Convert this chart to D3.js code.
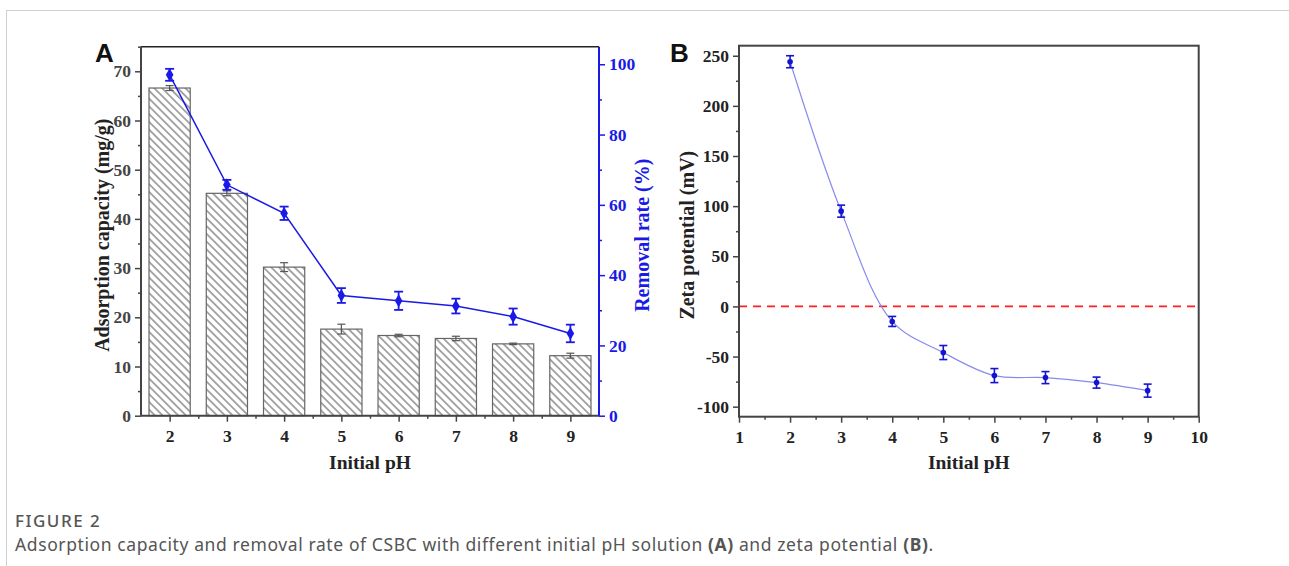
<!DOCTYPE html>
<html>
<head>
<meta charset="utf-8">
<script src="https://cdn.jsdelivr.net/npm/d3@7/dist/d3.min.js"></script>
<style>
  html, body { margin: 0; padding: 0; background: #fff; }
  svg { display: block; }
</style>
</head>
<body>
<svg id="chart" width="1289" height="566"></svg>
<script>
// ---------- DATA ----------
const phA = [2, 3, 4, 5, 6, 7, 8, 9];
const capacity = [66.6, 45.2, 30.2, 17.6, 16.3, 15.7, 14.6, 12.2];
const capacityErr = [0.5, 0.5, 0.9, 1.0, 0.25, 0.45, 0.15, 0.5];
const removal = [97.0, 65.7, 57.6, 34.2, 32.7, 31.2, 28.2, 23.4];
const removalErr = [1.7, 1.4, 1.9, 2.1, 2.6, 2.1, 2.3, 2.5];

const phB = [2, 3, 4, 5, 6, 7, 8, 9];
const zeta = [244, 95, -15, -46, -69, -71, -76, -84];
const zetaErr = [6, 6, 5, 7, 7, 6, 5.5, 6.5];

const leftTicks = [0, 10, 20, 30, 40, 50, 60, 70];
const rightTicks = [0, 20, 40, 60, 80, 100];
const xTicksA = [2, 3, 4, 5, 6, 7, 8, 9];
const yTicksB = [-100, -50, 0, 50, 100, 150, 200, 250];
const xTicksB = [1, 2, 3, 4, 5, 6, 7, 8, 9, 10];

// ---------- SETUP ----------
const svg = d3.select("#chart");
const axisCol = "#444";
const blue = "#1a1ae6";
const serif = "'Liberation Serif', 'Times New Roman', serif";
const sans = "'Liberation Sans', Arial, sans-serif";
const tickFont = 17.5;

// page border lines
svg.append("line").attr("x1", 6).attr("x2", 1289).attr("y1", 10.5).attr("y2", 10.5)
  .attr("stroke", "#d0d0d0").attr("stroke-width", 1);
svg.append("line").attr("x1", 6.5).attr("x2", 6.5).attr("y1", 10).attr("y2", 566)
  .attr("stroke", "#d0d0d0").attr("stroke-width", 1);

// hatch pattern (lines from top-left to bottom-right)
const defs = svg.append("defs");
const pat = defs.append("pattern").attr("id", "hatch")
  .attr("patternUnits", "userSpaceOnUse").attr("width", 5.5).attr("height", 5.5)
  .attr("patternTransform", "rotate(45)");
pat.append("rect").attr("width", 5.5).attr("height", 5.5).attr("fill", "#fff");
pat.append("line").attr("x1", 0).attr("x2", 5.5).attr("y1", 2.75).attr("y2", 2.75)
  .attr("stroke", "#555").attr("stroke-width", 1);

function styleAxis(g, col, fontSize) {
  g.select(".domain").remove();
  g.selectAll(".tick line").attr("stroke", col).attr("stroke-width", 1.5);
  g.selectAll(".tick text").attr("fill", col).attr("font-family", serif)
    .attr("font-weight", "bold").attr("font-size", fontSize);
}

// ---------- PANEL A ----------
const A = { l: 141, r: 599, t: 46.7, b: 415.7 };
const xA = d3.scaleLinear().domain([1.5, 9.5]).range([A.l, A.r]);
const yL = d3.scaleLinear().domain([0, 75]).range([A.b, A.t]);
const yR = d3.scaleLinear().domain([0, 105]).range([A.b, A.t]);

// bars
const halfW = 0.36;
svg.append("g").selectAll("rect").data(phA).join("rect")
  .attr("x", (d) => xA(d - halfW))
  .attr("width", (d) => xA(d + halfW) - xA(d - halfW))
  .attr("y", (d, i) => yL(capacity[i]))
  .attr("height", (d, i) => yL(0) - yL(capacity[i]))
  .attr("fill", "url(#hatch)").attr("stroke", "#666").attr("stroke-width", 1.2);

// bar error bars
const gBE = svg.append("g").attr("stroke", "#555").attr("stroke-width", 1.2);
phA.forEach((d, i) => {
  const x = xA(d), y1 = yL(capacity[i] - capacityErr[i]), y2 = yL(capacity[i] + capacityErr[i]);
  gBE.append("line").attr("x1", x).attr("x2", x).attr("y1", y1).attr("y2", y2);
  gBE.append("line").attr("x1", x - 4).attr("x2", x + 4).attr("y1", y1).attr("y2", y1);
  gBE.append("line").attr("x1", x - 4).attr("x2", x + 4).attr("y1", y2).attr("y2", y2);
});

// removal line
const lineA = d3.line().x((d) => xA(d)).y((d, i) => yR(removal[i]));
svg.append("path").datum(phA).attr("d", lineA)
  .attr("fill", "none").attr("stroke", blue).attr("stroke-width", 1.5);
const gRE = svg.append("g").attr("stroke", blue).attr("stroke-width", 1.8);
phA.forEach((d, i) => {
  const x = xA(d), y1 = yR(removal[i] - removalErr[i]), y2 = yR(removal[i] + removalErr[i]);
  gRE.append("line").attr("x1", x).attr("x2", x).attr("y1", y1).attr("y2", y2);
  gRE.append("line").attr("x1", x - 4.5).attr("x2", x + 4.5).attr("y1", y1).attr("y2", y1);
  gRE.append("line").attr("x1", x - 4.5).attr("x2", x + 4.5).attr("y1", y2).attr("y2", y2);
});
svg.append("g").selectAll("path").data(phA).join("path")
  .attr("d", d3.symbol(d3.symbolDiamond, 50))
  .attr("transform", (d, i) => `translate(${xA(d)},${yR(removal[i])})`)
  .attr("fill", blue);

// frame A
svg.append("line").attr("x1", A.l).attr("x2", A.r).attr("y1", A.t).attr("y2", A.t)
  .attr("stroke", "#222").attr("stroke-width", 1.5);
svg.append("line").attr("x1", A.l).attr("x2", A.l).attr("y1", A.t).attr("y2", A.b)
  .attr("stroke", axisCol).attr("stroke-width", 2);
svg.append("line").attr("x1", A.l).attr("x2", A.r).attr("y1", A.b).attr("y2", A.b)
  .attr("stroke", axisCol).attr("stroke-width", 2);
svg.append("line").attr("x1", A.r).attr("x2", A.r).attr("y1", A.t).attr("y2", A.b)
  .attr("stroke", blue).attr("stroke-width", 2);

// axes A
const gyL = svg.append("g").attr("transform", `translate(${A.l},0)`)
  .call(d3.axisLeft(yL).tickValues(leftTicks).tickSize(6).tickPadding(4).tickFormat(d3.format("d")));
styleAxis(gyL, axisCol, tickFont);
gyL.selectAll(".tick text").attr("fill", "#444");
const gyLm = svg.append("g").attr("transform", `translate(${A.l},0)`)
  .call(d3.axisLeft(yL).tickValues(leftTicks.map((d) => d + 5)).tickSize(3).tickFormat(""));
styleAxis(gyLm, axisCol, tickFont);

const gyR = svg.append("g").attr("transform", `translate(${A.r},0)`)
  .call(d3.axisRight(yR).tickValues(rightTicks).tickSize(6).tickPadding(4).tickFormat(d3.format("d")));
styleAxis(gyR, blue, tickFont);
const gyRm = svg.append("g").attr("transform", `translate(${A.r},0)`)
  .call(d3.axisRight(yR).tickValues(rightTicks.slice(0, -1).map((d) => d + 10)).tickSize(3).tickFormat(""));
styleAxis(gyRm, blue, tickFont);

const gxA = svg.append("g").attr("transform", `translate(0,${A.b})`)
  .call(d3.axisBottom(xA).tickValues(xTicksA).tickSize(6).tickPadding(8).tickFormat(d3.format("d")));
styleAxis(gxA, axisCol, tickFont);
gxA.selectAll(".tick text").attr("fill", "#222");
const gxAm = svg.append("g").attr("transform", `translate(0,${A.b})`)
  .call(d3.axisBottom(xA).tickValues(xTicksA.slice(0, -1).map((d) => d + 0.5)).tickSize(3).tickFormat(""));
styleAxis(gxAm, axisCol, tickFont);

// titles A
svg.append("text").attr("x", (A.l + A.r) / 2).attr("y", 469).attr("text-anchor", "middle")
  .attr("font-family", serif).attr("font-weight", "bold").attr("font-size", 19.5).attr("fill", "#222")
  .text("Initial pH");
svg.append("text").attr("transform", `translate(109,${(A.t + A.b) / 2 + 4}) rotate(-90)`)
  .attr("text-anchor", "middle").attr("font-family", serif).attr("font-weight", "bold")
  .attr("font-size", 20).attr("fill", "#222").text("Adsorption capacity (mg/g)");
svg.append("text").attr("transform", `translate(649,${(A.t + A.b) / 2 + 4}) rotate(-90)`)
  .attr("text-anchor", "middle").attr("font-family", serif).attr("font-weight", "bold")
  .attr("font-size", 20).attr("fill", blue).text("Removal rate (%)");
svg.append("text").attr("x", 95).attr("y", 62).attr("font-family", sans).attr("font-weight", "bold")
  .attr("font-size", 26).attr("fill", "#111").text("A");

// ---------- PANEL B ----------
const B = { l: 739, r: 1198.7, t: 45.7, b: 416.7 };
const xB = d3.scaleLinear().domain([1, 10]).range([B.l, B.r]);
const yB = d3.scaleLinear().domain([-110, 260]).range([B.b, B.t]);

// zero line
svg.append("line").attr("x1", B.l).attr("x2", B.r).attr("y1", yB(0)).attr("y2", yB(0))
  .attr("stroke", "#ff2020").attr("stroke-width", 1.6).attr("stroke-dasharray", "8,6");

const lineB = d3.line().x((d) => xB(d)).y((d, i) => yB(zeta[i])).curve(d3.curveCatmullRom.alpha(0.5));
svg.append("path").datum(phB).attr("d", lineB)
  .attr("fill", "none").attr("stroke", "#8a8aee").attr("stroke-width", 1.2);
const gZE = svg.append("g").attr("stroke", "#1414d0").attr("stroke-width", 1.6);
phB.forEach((d, i) => {
  const x = xB(d), y1 = yB(zeta[i] - zetaErr[i]), y2 = yB(zeta[i] + zetaErr[i]);
  gZE.append("line").attr("x1", x).attr("x2", x).attr("y1", y1).attr("y2", y2);
  gZE.append("line").attr("x1", x - 4).attr("x2", x + 4).attr("y1", y1).attr("y2", y1);
  gZE.append("line").attr("x1", x - 4).attr("x2", x + 4).attr("y1", y2).attr("y2", y2);
});
svg.append("g").selectAll("circle").data(phB).join("circle")
  .attr("cx", (d) => xB(d)).attr("cy", (d, i) => yB(zeta[i])).attr("r", 2.8)
  .attr("fill", "#1414d0");

// frame B
svg.append("rect").attr("x", B.l).attr("y", B.t).attr("width", B.r - B.l).attr("height", B.b - B.t)
  .attr("fill", "none").attr("stroke", axisCol).attr("stroke-width", 2);

const gyB = svg.append("g").attr("transform", `translate(${B.l},0)`)
  .call(d3.axisLeft(yB).tickValues(yTicksB).tickSize(6).tickPadding(4).tickFormat(d3.format("d")));
styleAxis(gyB, axisCol, tickFont);
gyB.selectAll(".tick text").attr("fill", "#222").text((d) => String(d));
const gyBm = svg.append("g").attr("transform", `translate(${B.l},0)`)
  .call(d3.axisLeft(yB).tickValues(yTicksB.slice(0, -1).map((d) => d + 25)).tickSize(3).tickFormat(""));
styleAxis(gyBm, axisCol, tickFont);

const gxB = svg.append("g").attr("transform", `translate(0,${B.b})`)
  .call(d3.axisBottom(xB).tickValues(xTicksB).tickSize(6).tickPadding(8).tickFormat(d3.format("d")));
styleAxis(gxB, axisCol, tickFont);
gxB.selectAll(".tick text").attr("fill", "#222");
const gxBm = svg.append("g").attr("transform", `translate(0,${B.b})`)
  .call(d3.axisBottom(xB).tickValues(xTicksB.slice(0, -1).map((d) => d + 0.5)).tickSize(3).tickFormat(""));
styleAxis(gxBm, axisCol, tickFont);

svg.append("text").attr("x", (B.l + B.r) / 2).attr("y", 469).attr("text-anchor", "middle")
  .attr("font-family", serif).attr("font-weight", "bold").attr("font-size", 19.5).attr("fill", "#222")
  .text("Initial pH");
svg.append("text").attr("transform", `translate(694,${(B.t + B.b) / 2 + 4}) rotate(-90)`)
  .attr("text-anchor", "middle").attr("font-family", serif).attr("font-weight", "bold")
  .attr("font-size", 20).attr("fill", "#222").text("Zeta potential (mV)");
svg.append("text").attr("x", 670).attr("y", 62).attr("font-family", sans).attr("font-weight", "bold")
  .attr("font-size", 26).attr("fill", "#111").text("B");

// ---------- CAPTION ----------
svg.append("text").attr("x", 15).attr("y", 527).attr("font-family", "'Noto Sans', sans-serif")
  .attr("font-size", 17).attr("fill", "#555").attr("font-weight", 500)
  .attr("letter-spacing", 1.5).text("FIGURE 2");
const cap = svg.append("text").attr("x", 15).attr("y", 551).attr("font-family", "'Noto Sans', sans-serif")
  .attr("font-size", 17.5).attr("fill", "#555").attr("letter-spacing", 0.6);
cap.append("tspan").text("Adsorption capacity and removal rate of CSBC with different initial pH solution ");
cap.append("tspan").attr("font-weight", "bold").text("(A)");
cap.append("tspan").text(" and zeta potential ");
cap.append("tspan").attr("font-weight", "bold").text("(B)");
cap.append("tspan").text(".");
</script>
</body>
</html>
